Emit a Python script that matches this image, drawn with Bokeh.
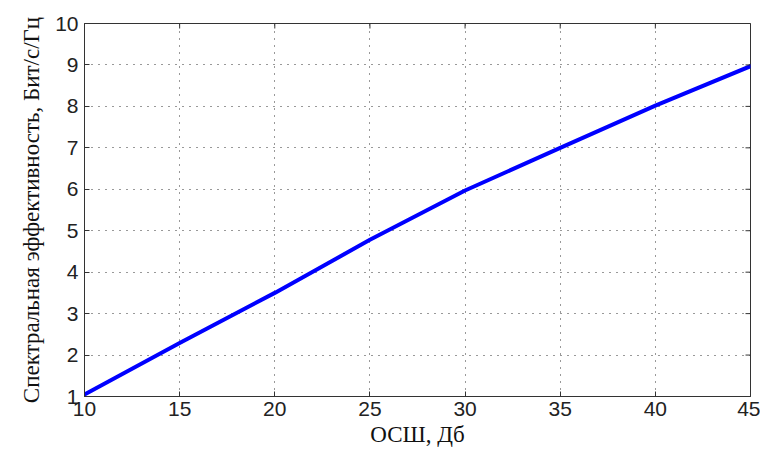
import math
from bokeh.plotting import figure
from bokeh.models import Range1d, FixedTicker
from bokeh.embed import file_html
from bokeh.resources import INLINE

snr_db = [10, 15, 20, 25, 30, 35, 40, 45]
efficiency = [1.05, 2.29, 3.50, 4.78, 5.97, 7.00, 8.02, 8.97]
x_ticks = [10, 15, 20, 25, 30, 35, 40, 45]
y_ticks = [1, 2, 3, 4, 5, 6, 7, 8, 9, 10]

p = figure(width=760, height=449, output_backend="svg", toolbar_location=None,
           x_range=Range1d(10, 45), y_range=Range1d(1, 10),
           min_border_left=84, min_border_right=10, min_border_top=23, min_border_bottom=52)
p.background_fill_color = "white"
p.border_fill_color = "white"
p.outline_line_color = "#333333"
p.outline_line_width = 1

for g in (p.xgrid[0], p.ygrid[0]):
    g.grid_line_color = "#333333"
    g.grid_line_dash = "1 6"
    g.grid_line_width = 1
p.xgrid[0].ticker = FixedTicker(ticks=x_ticks)
p.ygrid[0].ticker = FixedTicker(ticks=y_ticks)

p.line(snr_db, efficiency, line_color="#0000FF", line_width=4, line_join="round", line_cap="round")

# inward ticks on the top and right edges (MATLAB box style)
p.scatter(x=x_ticks, y=[y_ticks[-1]] * len(x_ticks), marker="dash", angle=math.pi / 2,
          size=10, line_color="#333333", line_width=1)
p.scatter(x=[x_ticks[-1]] * len(y_ticks), y=y_ticks, marker="dash",
          size=10, line_color="#333333", line_width=1)

for ax in (p.xaxis[0], p.yaxis[0]):
    ax.major_label_text_font = "Liberation Sans"
    ax.major_label_text_font_size = "21px"
    ax.major_label_text_color = "#222222"
    ax.axis_line_color = "#333333"
    ax.major_tick_line_color = "#333333"
    ax.major_tick_in = 5
    ax.major_tick_out = 0
    ax.minor_tick_line_color = None
    ax.axis_label_text_font = "Liberation Serif"
    ax.axis_label_text_font_style = "normal"
    ax.axis_label_text_color = "#111111"

p.xaxis[0].ticker = FixedTicker(ticks=x_ticks)
p.yaxis[0].ticker = FixedTicker(ticks=y_ticks)
p.xaxis[0].axis_label = "ОСШ, Дб"
p.yaxis[0].axis_label = "Спектральная эффективность, Бит/с/Гц"
p.xaxis[0].axis_label_text_font_size = "23px"
p.yaxis[0].axis_label_text_font_size = "23px"
p.xaxis[0].major_label_standoff = 5
p.yaxis[0].major_label_standoff = 6
p.xaxis[0].axis_label_standoff = 3
p.yaxis[0].axis_label_standoff = 8

open("out.html", "w").write(file_html(p, INLINE))
